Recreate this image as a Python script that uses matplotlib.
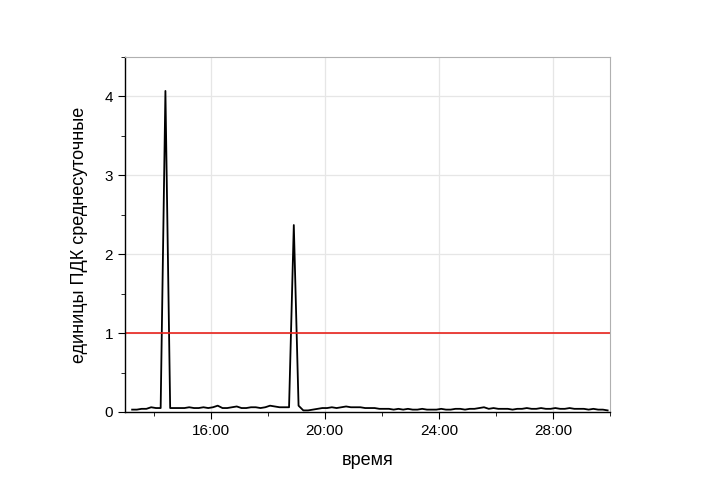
import matplotlib
matplotlib.use("Agg")
import matplotlib.pyplot as plt
import numpy as np
from matplotlib.ticker import MultipleLocator, FuncFormatter

plt.rcParams['font.family'] = ['Liberation Sans', 'DejaVu Sans']

# concentration, units of daily-average MPC, 10-minute steps starting 13:15
values = [
    0.03, 0.03, 0.04, 0.04, 0.06, 0.05, 0.05,
    4.07,
    0.05, 0.05, 0.05, 0.05, 0.06, 0.05, 0.05, 0.06, 0.05, 0.06, 0.08, 0.05, 0.05,
    0.06, 0.07, 0.05, 0.05, 0.06, 0.06, 0.05, 0.06, 0.08, 0.07, 0.06, 0.06, 0.06,
    2.37,
    0.08, 0.02, 0.02, 0.03, 0.04, 0.05, 0.05, 0.06, 0.05, 0.06, 0.07, 0.06, 0.06,
    0.06, 0.05, 0.05, 0.05, 0.04, 0.04, 0.04, 0.03, 0.04, 0.03, 0.04, 0.03, 0.03,
    0.04, 0.03, 0.03, 0.03, 0.04, 0.03, 0.03, 0.04, 0.04, 0.03, 0.04, 0.04, 0.05,
    0.06, 0.04, 0.05, 0.04, 0.04, 0.04, 0.03, 0.04, 0.04, 0.05, 0.04, 0.04, 0.05,
    0.04, 0.04, 0.05, 0.04, 0.04, 0.05, 0.04, 0.04, 0.04, 0.03, 0.04, 0.03, 0.03,
    0.02,
]
start_hour = 13.25
times = start_hour + np.arange(len(values)) / 6.0
limit = 1.0

fig = plt.figure(figsize=(7.09, 4.95), dpi=100)
ax = fig.add_axes([0.1763, 0.1677, 0.6841, 0.7171])

ax.plot(times, values, color='black', lw=1.3)
ax.axhline(limit, color='#e8231c', lw=1.2)

ax.set_xlim(13, 30)
ax.set_ylim(0, 4.5)
ax.xaxis.set_major_locator(MultipleLocator(4))
ax.xaxis.set_minor_locator(MultipleLocator(2))
ax.yaxis.set_major_locator(MultipleLocator(1))
ax.yaxis.set_minor_locator(MultipleLocator(0.5))
ax.xaxis.set_major_formatter(FuncFormatter(lambda v, p: '%d:00' % v))

ax.grid(True, which='major', color='#e6e6e6', lw=0.9)
ax.set_axisbelow(True)

for s in ['top', 'right']:
    ax.spines[s].set_color('#b0b0b0')
ax.spines['left'].set_linewidth(1.0)
ax.spines['bottom'].set_linewidth(1.0)
ax.tick_params(which='major', direction='out', length=5, labelsize=11)
ax.tick_params(which='minor', direction='out', length=3)
ax.tick_params(top=False, right=False)

ax.set_xlabel('время', fontsize=13, labelpad=10)
ax.set_ylabel('единицы ПДК среднесуточные', fontsize=13, labelpad=12)

fig.savefig('out.png', dpi=100)
